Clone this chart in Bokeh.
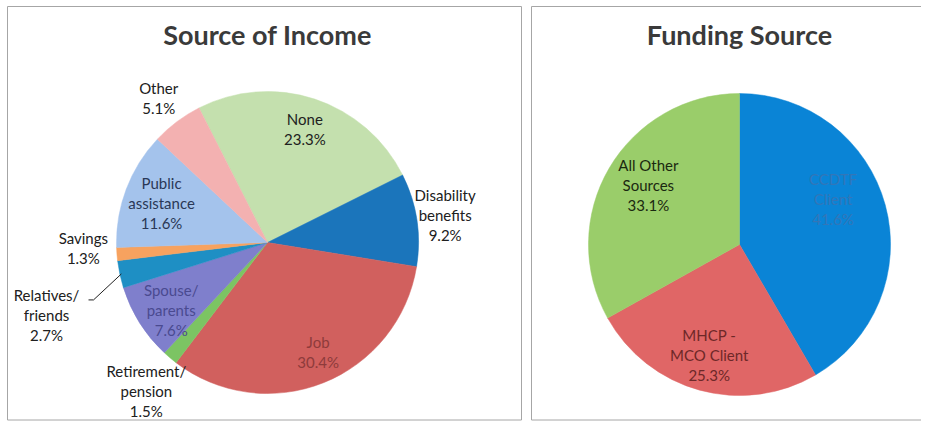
import math
from bokeh.plotting import figure
from bokeh.models import Range1d, ColumnDataSource
from bokeh.core.properties import value
from bokeh.embed import file_html
from bokeh.resources import INLINE

# ---------------- data ----------------
income_title = "Source of Income"
income_categories = ["None", "Disability\nbenefits", "Job", "Retirement/\npension",
                     "Spouse/\nparents", "Relatives/\nfriends", "Savings",
                     "Public\nassistance", "Other"]
income_values = [23.3, 9.2, 30.4, 1.5, 7.6, 2.7, 1.3, 11.6, 5.1]

funding_title = "Funding Source"
funding_categories = ["CCDTF\nClient", "MHCP -\nMCO Client", "All Other\nSources"]
funding_values = [41.6, 25.3, 33.1]

# ---------------- styles ----------------
income_colors = ["#C4E0AE", "#1B75BB", "#D1605E", "#7CC463", "#7F7FCC",
                 "#1E8FC4", "#F7A25F", "#A4C3EC", "#F3B1B1"]
income_text_colors = ["#202020", "#202020", "#8E3B3B", "#202020", "#4A4A90",
                      "#202020", "#202020", "#2A3856", "#202020"]
income_label_r = [0.79, 1.19, 0.80, 1.27, 0.78, 1.54, 1.22, 0.75, 1.20]
income_label_tweak = [0, 0, -3, -1.0, -3, -6, 2.7, 0, 0]

funding_colors = ["#0A84D6", "#E06666", "#9ACD6A"]
funding_text_colors = ["#3276B8", "#6E2828", "#1A2810"]
funding_label_r = [0.69, 0.76, 0.72]
funding_label_tweak = [-11, 0, 2.6]

FONT = "Lato"
W, H = 921, 421


def dy(py):
    return H - py


p = figure(width=W, height=H, x_range=Range1d(0, W), y_range=Range1d(0, H),
           output_backend="svg", toolbar_location=None, min_border=0,
           x_axis_location=None, y_axis_location=None)
p.grid.visible = False
p.outline_line_color = None
p.background_fill_color = "white"
p.border_fill_color = "white"

# panel frames
p.quad(left=[7, 531], right=[521, 940], top=[dy(6), dy(6)], bottom=[dy(419.5), dy(419.5)],
       fill_color=None, line_color="#A6A6A6", line_width=1)


def draw_pie(cx, cy_px, R, values, categories, colors, text_colors, lab_r, lab_tw, start_deg,
             title, leader_index=None):
    cy = dy(cy_px)
    total = sum(values)
    cum = start_deg
    starts, ends, mids = [], [], []
    for v in values:
        a0 = cum
        a1 = cum + v / total * 360.0
        cum = a1
        starts.append(math.radians(90 - a1))
        ends.append(math.radians(90 - a0))
        mids.append((a0 + a1) / 2)
    src = ColumnDataSource(dict(x=[cx] * len(values), y=[cy] * len(values),
                                start=starts, end=ends, color=colors))
    p.wedge(x="x", y="y", radius=R, start_angle="start", end_angle="end",
            fill_color="color", line_color="color", line_width=0.5, source=src)

    xs, ys, txt, tcol = [], [], [], []
    for i, (cat, v) in enumerate(zip(categories, values)):
        th = math.radians(mids[i] + lab_tw[i])
        r = lab_r[i] * R
        lx = cx + r * math.sin(th)
        ly = cy + r * math.cos(th)
        lines = cat.split("\n") + [f"{v:.1f}%"]
        n = len(lines)
        for k, ln in enumerate(lines):
            xs.append(lx)
            ys.append(ly - (k - (n - 1) / 2) * 20)
            txt.append(ln)
            tcol.append(text_colors[i])
        if leader_index is not None and i == leader_index:
            thm = math.radians(mids[i])
            ex = cx + R * 0.99 * math.sin(thm)
            ey = cy + R * 0.99 * math.cos(thm)
            p.line(x=[lx + 42, lx + 47, ex], y=[ly + 15, ly + 15, ey],
                   line_color="#202020", line_width=1)
    p.text(x=xs, y=ys, text=txt, text_color=tcol, text_font=value(FONT),
           text_font_size="15px", text_align="center", text_baseline="middle")
    p.text(x=[cx], y=[dy(34)], text=[title], text_color="#3A3A3A", text_font=value(FONT),
           text_font_size="27px", text_font_style="bold", text_align="center",
           text_baseline="middle")


draw_pie(267, 242, 151, income_values, income_categories, income_colors, income_text_colors,
         income_label_r, income_label_tweak, -27, income_title, leader_index=5)
draw_pie(739, 244, 151, funding_values, funding_categories, funding_colors, funding_text_colors,
         funding_label_r, funding_label_tweak, 0, funding_title)

open("out.html", "w").write(file_html(p, INLINE))
